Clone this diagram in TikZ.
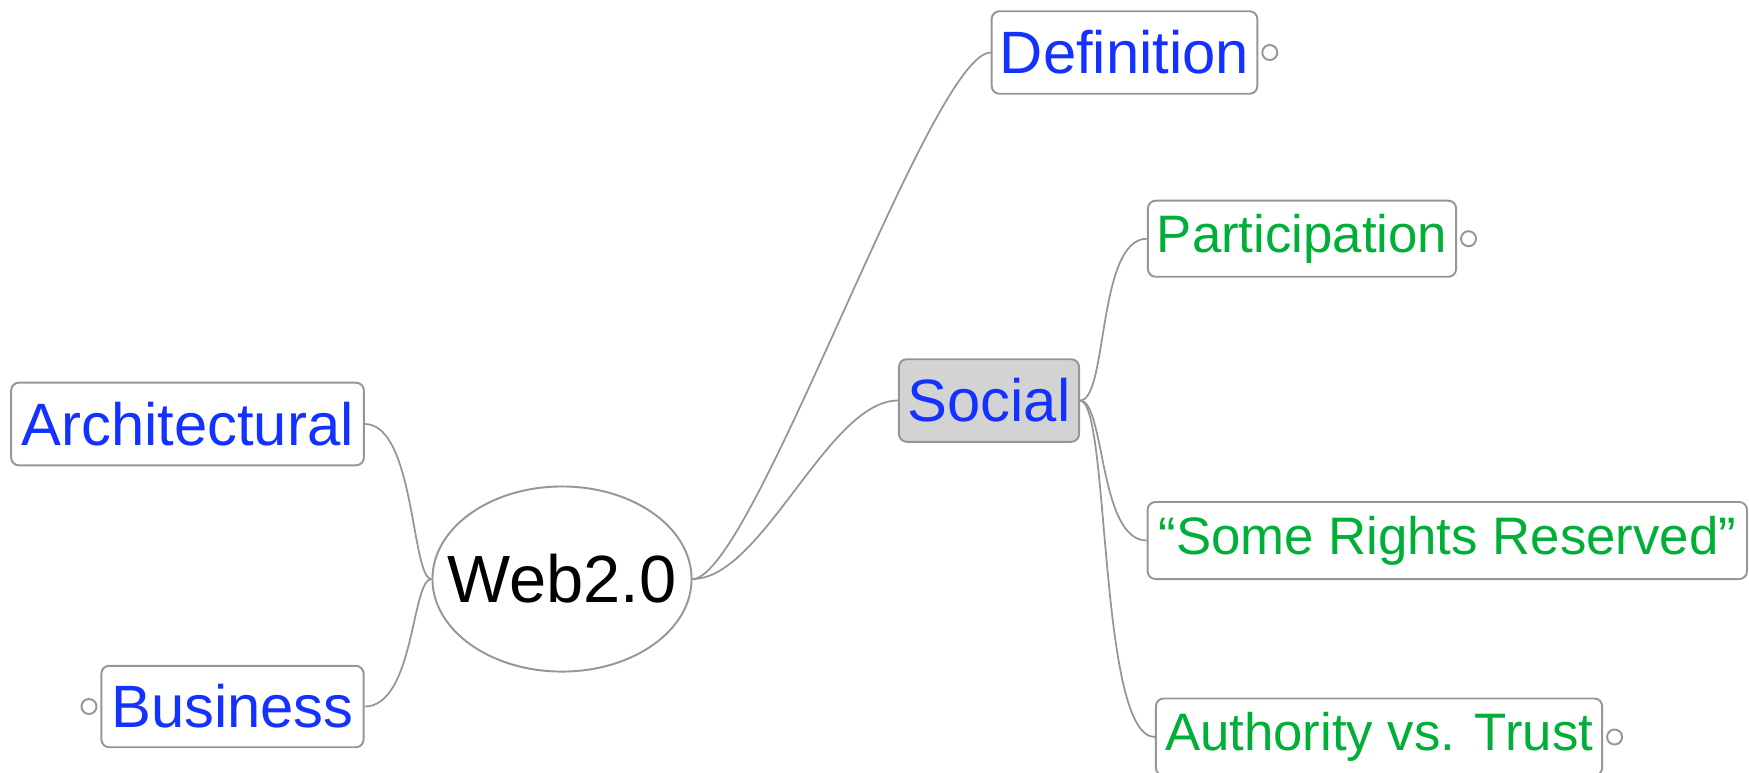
\documentclass[tikz,border=0pt]{standalone}
\usepackage{fontspec}
\setmainfont{Liberation Sans}
\usetikzlibrary{shapes.geometric,positioning}
\definecolor{topicblue}{RGB}{20,50,255}
\definecolor{topicgreen}{RGB}{0,175,55}
\definecolor{edgegray}{RGB}{150,150,150}
\definecolor{selfill}{RGB}{211,211,211}
\tikzset{
  box/.style={draw=edgegray, line width=0.55pt, rounded corners=2.2pt, fill=white,
    inner sep=0pt, anchor=center},
  maintopic/.style={box, text=topicblue, font=\fontsize{17pt}{20pt}\selectfont},
  subtopic/.style={box, text=topicgreen, font=\fontsize{15pt}{18pt}\selectfont},
  central/.style={draw=edgegray, line width=0.55pt, ellipse, fill=white, inner sep=0pt,
    minimum width=2.59cm, minimum height=1.85cm, font=\fontsize{19pt}{22pt}\selectfont},
  knob/.style={draw=edgegray, line width=0.55pt, circle, fill=white, inner sep=0pt,
    minimum size=0.15cm},
  link/.style={draw=edgegray, line width=0.5pt},
}
\begin{document}
\begin{tikzpicture}[x=0.01cm, y=-0.01cm]
\useasboundingbox (0,0) rectangle (1749,772);

% central topic (text kept in a zero-width box so the ellipse keeps its set size)
\node[central] (web) at (562,579) {\makebox[0pt]{Web2.0}};

% main topics
\node[maintopic, minimum width=2.655cm, minimum height=0.825cm] (def) at (1124.5,52.5) {Definition};
\node[maintopic, fill=selfill, minimum width=1.80cm, minimum height=0.825cm] (soc) at (989,400.5) {Social};
\node[maintopic, minimum width=3.525cm, minimum height=0.826cm] (arch) at (187.5,424) {Architectural};
\node[maintopic, minimum width=2.62cm, minimum height=0.814cm] (bus) at (232.5,706.5) {Business};

% subtopics of Social
\node[subtopic, minimum width=3.08cm, minimum height=0.76cm] (part) at (1302,238.7) {Participation};
\node[subtopic, minimum width=5.99cm, minimum height=0.77cm] (srr) at (1447.3,540.5) {“Some Rights Reserved”};
\node[subtopic, minimum width=4.46cm, minimum height=0.77cm] (auth) at (1379,737) {Authority vs. Trust};

% collapse knobs
\node[knob, right=0.03cm of def.east, anchor=west] (defk) {};
\node[knob, right=0.03cm of part.east, anchor=west] (partk) {};
\node[knob, right=0.03cm of auth.east, anchor=west] (authk) {};
\node[knob, left=0.03cm of bus.west, anchor=east] (busk) {};

% branches from the central topic
\draw[link] (web.east) .. controls +(60,0) and +(-60,0) .. (def.west);
\draw[link] (web.east) .. controls +(70,0) and +(-70,0) .. (soc.west);
\draw[link] (web.west) .. controls +(-20,0) and +(50,0) .. (arch.east);
\draw[link] (web.west) .. controls +(-20,0) and +(50,0) .. (bus.east);

% branches from Social
\draw[link] (soc.east) .. controls +(28,0) and +(-50,0) .. (part.west);
\draw[link] (soc.east) .. controls +(25,0) and +(-48,0) .. (srr.west);
\draw[link] (soc.east) .. controls +(30,0) and +(-57,0) .. (auth.west);
\end{tikzpicture}
\end{document}
